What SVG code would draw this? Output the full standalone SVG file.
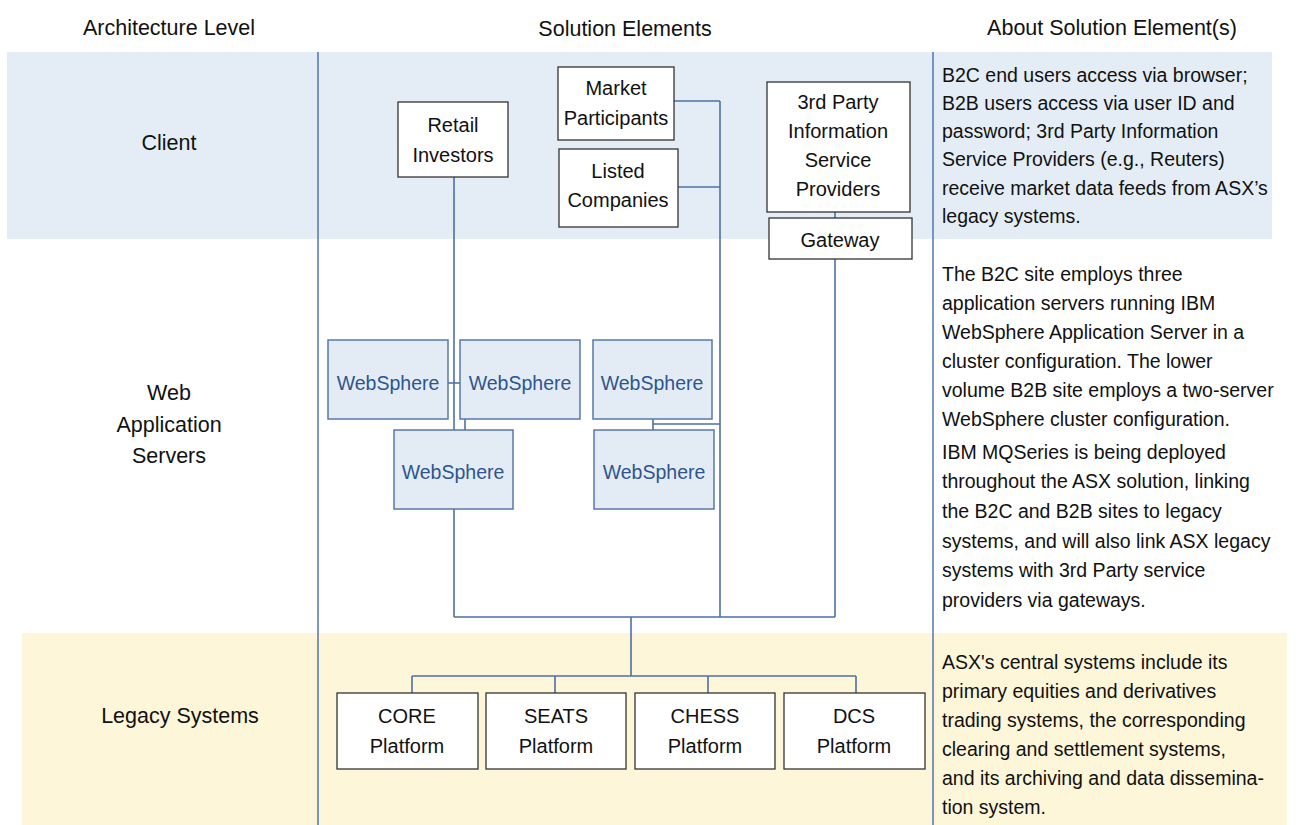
<svg xmlns="http://www.w3.org/2000/svg" width="1303" height="825" viewBox="0 0 1303 825">
<style>
text{font-family:"Liberation Sans",Arial,sans-serif;fill:#111;}
.hdr{font-size:21.5px;text-anchor:middle;}
.lvl{font-size:21.5px;text-anchor:middle;}
.nt{font-size:20px;text-anchor:middle;}
.ws{font-size:19.5px;text-anchor:middle;fill:#2f5490;}
.desc{font-size:19.5px;}
.box{fill:#fff;stroke:#333;stroke-width:1.3;}
.wsb{fill:#e3ecf5;stroke:#5878a8;stroke-width:1.5;}
.con{stroke:#4d70a6;stroke-width:1.6;fill:none;}
.div{stroke:#5b7db5;stroke-width:1.6;}
</style>
<rect x="0" y="0" width="1303" height="825" fill="#fff"/>
<g id="bands">
<rect x="7" y="52" width="1265" height="187" fill="#e4edf5"/>
<rect x="22" y="633" width="1265" height="192" fill="#fef6d8"/>
<line class="div" x1="318" y1="52" x2="318" y2="825"/>
<line class="div" x1="933" y1="52" x2="933" y2="825"/>
</g>
<g id="headers">
<text class="hdr" x="169" y="35">Architecture Level</text>
<text class="hdr" x="625" y="36">Solution Elements</text>
<text class="hdr" x="1112" y="35">About Solution Element(s)</text>
</g>
<g id="levels">
<text class="lvl" x="169" y="150">Client</text>
<text class="lvl" x="169" y="400">Web</text>
<text class="lvl" x="169" y="432">Application</text>
<text class="lvl" x="169" y="463">Servers</text>
<text class="lvl" x="180" y="723">Legacy Systems</text>
</g>
<g id="connectors">
<line class="con" x1="454" y1="177" x2="454" y2="617"/>
<line class="con" x1="448" y1="383" x2="460" y2="383"/>
<line class="con" x1="465" y1="419" x2="465" y2="430"/>
<line class="con" x1="674" y1="101" x2="720" y2="101"/>
<line class="con" x1="678" y1="187" x2="720" y2="187"/>
<line class="con" x1="720" y1="101" x2="720" y2="617"/>
<line class="con" x1="653" y1="419" x2="653" y2="430"/>
<line class="con" x1="653" y1="424" x2="720" y2="424"/>
<line class="con" x1="835" y1="212" x2="835" y2="218"/>
<line class="con" x1="835" y1="259" x2="835" y2="617"/>
<line class="con" x1="454" y1="617" x2="835" y2="617"/>
<line class="con" x1="631" y1="617" x2="631" y2="676"/>
<line class="con" x1="412" y1="676" x2="856" y2="676"/>
<line class="con" x1="412" y1="676" x2="412" y2="693"/>
<line class="con" x1="555" y1="676" x2="555" y2="693"/>
<line class="con" x1="708" y1="676" x2="708" y2="693"/>
<line class="con" x1="856" y1="676" x2="856" y2="693"/>
</g>
<g id="retail-investors">
<rect class="box" x="398" y="102" width="110" height="75"/>
<text class="nt" x="453" y="132">Retail</text>
<text class="nt" x="453" y="162">Investors</text>
</g>
<g id="market-participants">
<rect class="box" x="558" y="67" width="116" height="73"/>
<text class="nt" x="616" y="95">Market</text>
<text class="nt" x="616" y="125">Participants</text>
</g>
<g id="listed-companies">
<rect class="box" x="559" y="149" width="119" height="78"/>
<text class="nt" x="618" y="178">Listed</text>
<text class="nt" x="618" y="207">Companies</text>
</g>
<g id="third-party">
<rect class="box" x="767" y="82" width="143" height="130"/>
<text class="nt" x="838" y="109">3rd Party</text>
<text class="nt" x="838" y="138">Information</text>
<text class="nt" x="838" y="167">Service</text>
<text class="nt" x="838" y="196">Providers</text>
</g>
<g id="gateway">
<rect class="box" x="769" y="218" width="143" height="41"/>
<text class="nt" x="840" y="247">Gateway</text>
</g>
<g id="ws1">
<rect class="wsb" x="328" y="340" width="120" height="79"/>
<text class="ws" x="388" y="390">WebSphere</text>
</g>
<g id="ws2">
<rect class="wsb" x="460" y="340" width="120" height="79"/>
<text class="ws" x="520" y="390">WebSphere</text>
</g>
<g id="ws3">
<rect class="wsb" x="593" y="340" width="119" height="79"/>
<text class="ws" x="652" y="390">WebSphere</text>
</g>
<g id="ws4">
<rect class="wsb" x="394" y="430" width="119" height="79"/>
<text class="ws" x="453" y="479">WebSphere</text>
</g>
<g id="ws5">
<rect class="wsb" x="594" y="430" width="120" height="79"/>
<text class="ws" x="654" y="479">WebSphere</text>
</g>
<g id="core">
<rect class="box" x="337" y="693" width="141" height="76"/>
<text class="nt" x="407" y="723">CORE</text>
<text class="nt" x="407" y="753">Platform</text>
</g>
<g id="seats">
<rect class="box" x="486" y="693" width="140" height="76"/>
<text class="nt" x="556" y="723">SEATS</text>
<text class="nt" x="556" y="753">Platform</text>
</g>
<g id="chess">
<rect class="box" x="635" y="693" width="140" height="76"/>
<text class="nt" x="705" y="723">CHESS</text>
<text class="nt" x="705" y="753">Platform</text>
</g>
<g id="dcs">
<rect class="box" x="784" y="693" width="141" height="76"/>
<text class="nt" x="854" y="723">DCS</text>
<text class="nt" x="854" y="753">Platform</text>
</g>
<g id="descriptions">
<text class="desc" x="942" y="82">B2C end users access via browser;</text>
<text class="desc" x="942" y="110">B2B users access via user ID and</text>
<text class="desc" x="942" y="138">password; 3rd Party Information</text>
<text class="desc" x="942" y="166">Service Providers (e.g., Reuters)</text>
<text class="desc" x="942" y="195">receive market data feeds from ASX’s</text>
<text class="desc" x="942" y="223">legacy systems.</text>
<text class="desc" x="942" y="281">The B2C site employs three</text>
<text class="desc" x="942" y="310">application servers running IBM</text>
<text class="desc" x="942" y="339">WebSphere Application Server in a</text>
<text class="desc" x="942" y="368">cluster configuration. The lower</text>
<text class="desc" x="942" y="397">volume B2B site employs a two-server</text>
<text class="desc" x="942" y="426">WebSphere cluster configuration.</text>
<text class="desc" x="942" y="459">IBM MQSeries is being deployed</text>
<text class="desc" x="942" y="488">throughout the ASX solution, linking</text>
<text class="desc" x="942" y="518">the B2C and B2B sites to legacy</text>
<text class="desc" x="942" y="548">systems, and will also link ASX legacy</text>
<text class="desc" x="942" y="577">systems with 3rd Party service</text>
<text class="desc" x="942" y="607">providers via gateways.</text>
<text class="desc" x="942" y="669">ASX's central systems include its</text>
<text class="desc" x="942" y="698">primary equities and derivatives</text>
<text class="desc" x="942" y="727">trading systems, the corresponding</text>
<text class="desc" x="942" y="756">clearing and settlement systems,</text>
<text class="desc" x="942" y="785">and its archiving and data dissemina-</text>
<text class="desc" x="942" y="814">tion system.</text>
</g>
</svg>
